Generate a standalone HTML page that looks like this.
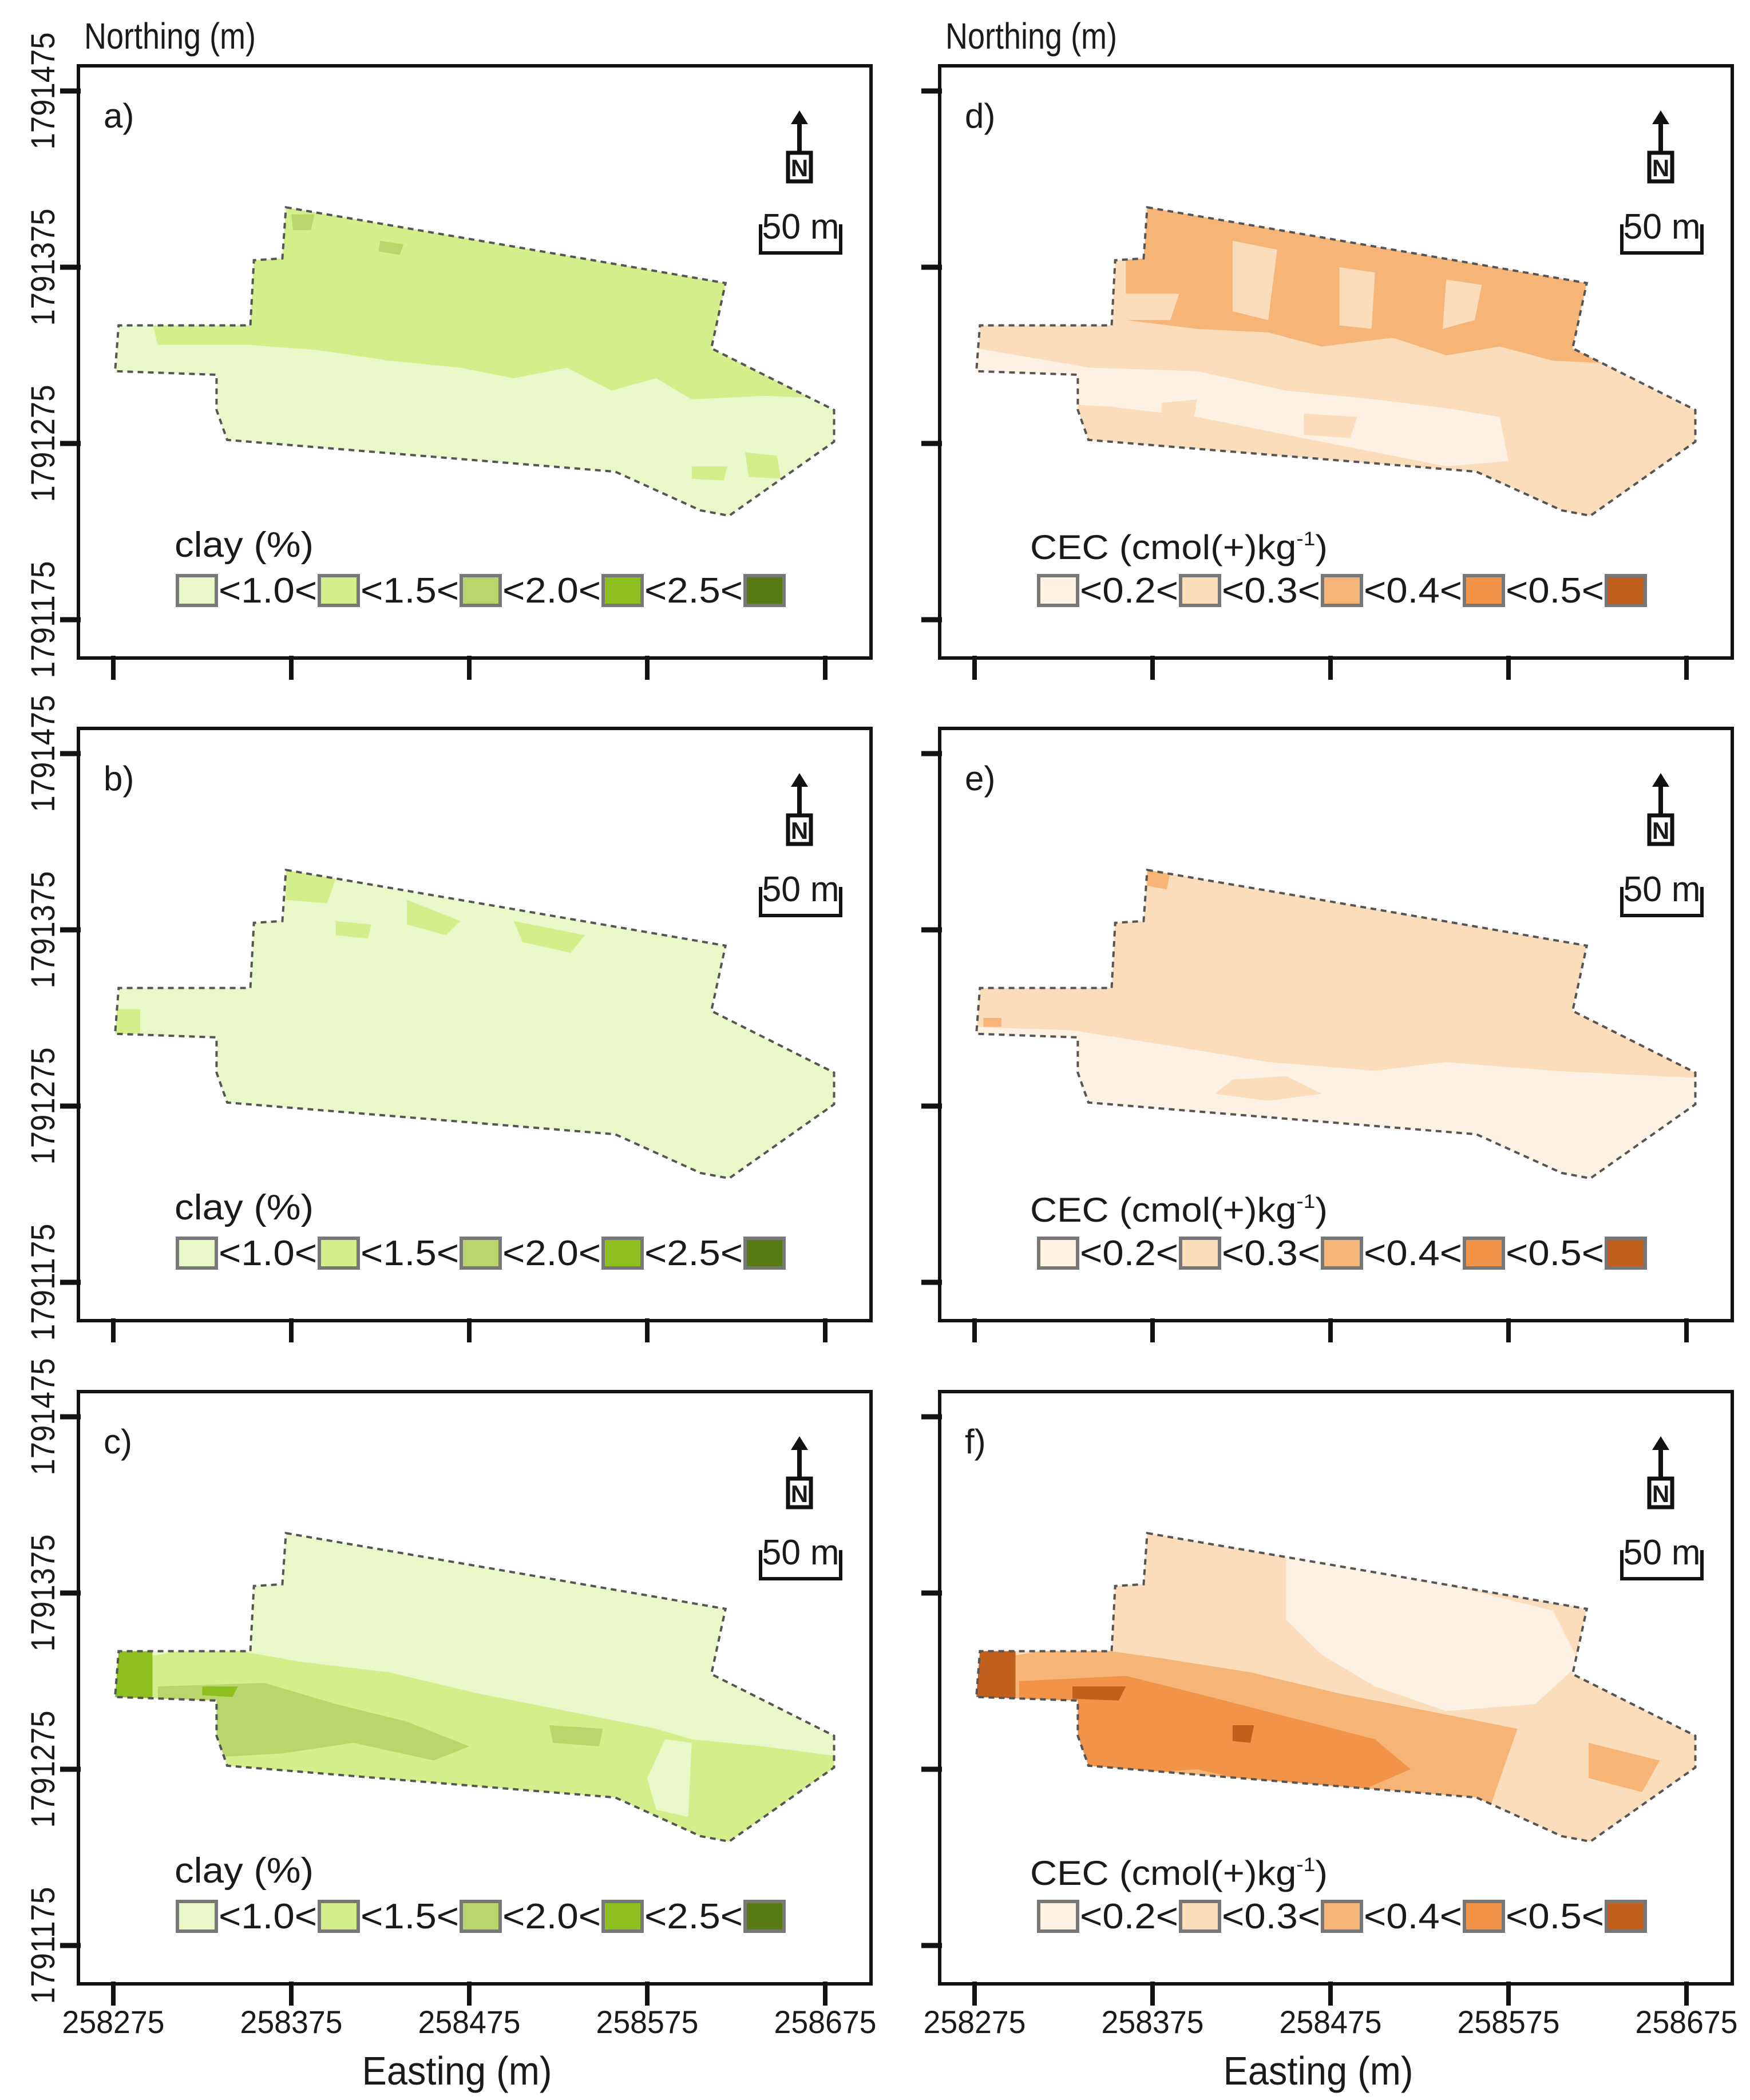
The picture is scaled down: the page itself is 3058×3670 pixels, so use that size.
<!DOCTYPE html>
<html><head><meta charset="utf-8"><style>
html,body{margin:0;padding:0;background:#fff}
svg{display:block}
text{font-family:"Liberation Sans",Arial,sans-serif;fill:#1a1a1a}
</style></head><body>
<svg id="fig" xmlns="http://www.w3.org/2000/svg" width="3058" height="3670" viewBox="0 0 3058 3670"></svg>
<script>
const NS="http://www.w3.org/2000/svg";
const xTicks=[258275,258375,258475,258575,258675];
const yTicks=[1791475,1791375,1791275,1791175];
const greenColors=["#e9f7c9","#d4ee8c","#b9d56b","#8cbf1f","#5a7a15"];
const orangeColors=["#fdf1e3","#fbdcbb","#f6b477","#f2934a","#c0601c"];
const clayLabels=["<1.0<","<1.5<","<2.0<","<2.5<"];
const cecLabels=["<0.2<","<0.3<","<0.4<","<0.5<"];
const field=[[258372,1791409],[258619,1791366],[258611,1791329],[258680,1791294],[258680,1791276],[258621,1791234],[258605,1791237],[258557,1791259],[258339,1791277],[258333,1791294],[258333,1791314],[258276,1791316],[258278,1791342],[258352,1791342],[258354,1791379],[258370,1791380]];
const zonesA=[[1,[[258270,1791450],[258700,1791450],[258700,1791300],[258640,1791302],[258600,1791300],[258580,1791312],[258555,1791305],[258530,1791318],[258500,1791312],[258470,1791318],[258430,1791322],[258390,1791328],[258350,1791331],[258300,1791331]]],
 [2,[[258375,1791405],[258388,1791405],[258386,1791396],[258376,1791396]]],
 [2,[[258425,1791390],[258438,1791388],[258436,1791382],[258424,1791384]]],
 [1,[[258630,1791270],[258648,1791268],[258650,1791255],[258632,1791256]]],
 [1,[[258600,1791262],[258620,1791262],[258618,1791254],[258600,1791255]]]];
const zonesB=[[1,[[258372,1791409],[258400,1791404],[258395,1791390],[258372,1791392]]],
 [1,[[258440,1791392],[258470,1791380],[258462,1791372],[258440,1791378]]],
 [1,[[258500,1791380],[258540,1791372],[258532,1791362],[258505,1791368]]],
 [1,[[258276,1791330],[258290,1791330],[258290,1791316],[258276,1791316]]],
 [1,[[258400,1791380],[258420,1791378],[258418,1791370],[258400,1791372]]]];
const zonesC=[[1,[[258270,1791335],[258330,1791345],[258380,1791336],[258430,1791330],[258480,1791318],[258540,1791306],[258580,1791298],[258600,1791292],[258640,1791288],[258700,1791280],[258700,1791200],[258270,1791200]]],
 [0,[[258585,1791292],[258600,1791290],[258598,1791248],[258580,1791252],[258575,1791270]]],
 [2,[[258300,1791322],[258360,1791324],[258400,1791312],[258440,1791302],[258475,1791288],[258455,1791280],[258410,1791290],[258370,1791284],[258335,1791282],[258300,1791286]]],
 [2,[[258520,1791300],[258550,1791298],[258548,1791288],[258522,1791290]]],
 [3,[[258270,1791350],[258297,1791350],[258297,1791305],[258270,1791305]]],
 [3,[[258325,1791322],[258345,1791322],[258342,1791316],[258325,1791317]]]];
const zonesD=[[2,[[258360,1791410],[258700,1791410],[258700,1791330],[258640,1791320],[258600,1791322],[258570,1791330],[258540,1791325],[258510,1791335],[258470,1791330],[258440,1791338],[258400,1791340],[258360,1791345]]],
 [1,[[258420,1791390],[258445,1791385],[258440,1791345],[258420,1791350]]],
 [1,[[258480,1791375],[258500,1791372],[258498,1791340],[258480,1791342]]],
 [1,[[258540,1791368],[258560,1791365],[258556,1791345],[258538,1791340]]],
 [1,[[258355,1791360],[258390,1791360],[258385,1791345],[258355,1791345]]],
 [0,[[258270,1791330],[258340,1791318],[258400,1791316],[258450,1791305],[258500,1791300],[258540,1791295],[258570,1791290],[258575,1791265],[258540,1791262],[258500,1791270],[258450,1791280],[258400,1791290],[258350,1791296],[258270,1791300]]],
 [1,[[258380,1791298],[258400,1791300],[258398,1791288],[258380,1791290]]],
 [1,[[258460,1791292],[258490,1791290],[258486,1791278],[258460,1791280]]]];
const zonesE=[[0,[[258270,1791320],[258330,1791318],[258380,1791310],[258440,1791300],[258500,1791295],[258540,1791300],[258600,1791295],[258700,1791290],[258700,1791200],[258270,1791200]]],
 [1,[[258420,1791290],[258450,1791292],[258470,1791282],[258440,1791278],[258410,1791282]]],
 [2,[[258372,1791409],[258385,1791408],[258383,1791398],[258372,1791400]]],
 [2,[[258280,1791325],[258290,1791325],[258290,1791320],[258280,1791320]]]];
const zonesF=[[0,[[258450,1791400],[258560,1791375],[258600,1791365],[258615,1791335],[258590,1791312],[258540,1791308],[258500,1791322],[258470,1791340],[258450,1791360]]],
 [2,[[258270,1791335],[258330,1791345],[258380,1791338],[258430,1791330],[258480,1791318],[258540,1791306],[258580,1791298],[258560,1791240],[258270,1791240]]],
 [2,[[258620,1791290],[258660,1791280],[258650,1791262],[258620,1791270]]],
 [3,[[258300,1791325],[258360,1791328],[258400,1791318],[258450,1791305],[258500,1791292],[258520,1791275],[258490,1791262],[258440,1791266],[258400,1791275],[258360,1791272],[258335,1791276],[258300,1791282]]],
 [4,[[258270,1791350],[258298,1791350],[258298,1791305],[258270,1791305]]],
 [4,[[258330,1791322],[258360,1791322],[258356,1791314],[258330,1791315]]],
 [4,[[258420,1791300],[258432,1791300],[258430,1791290],[258420,1791291]]]];

const PW=1385,PH=1035;
const panels=[
 {id:"a",x:137,y:115,pal:greenColors,zones:zonesA,base:0,title:"clay (%)",labels:clayLabels,left:true},
 {id:"b",x:137,y:1273,pal:greenColors,zones:zonesB,base:0,title:"clay (%)",labels:clayLabels,left:true},
 {id:"c",x:137,y:2432,pal:greenColors,zones:zonesC,base:0,title:"clay (%)",labels:clayLabels,left:true,bottom:true},
 {id:"d",x:1642,y:115,pal:orangeColors,zones:zonesD,base:1,title:"CEC",labels:cecLabels},
 {id:"e",x:1642,y:1273,pal:orangeColors,zones:zonesE,base:1,title:"CEC",labels:cecLabels},
 {id:"f",x:1642,y:2432,pal:orangeColors,zones:zonesF,base:1,title:"CEC",labels:cecLabels,bottom:true}];
const svg=document.getElementById('fig');
function mk(tag,attrs,parent,txt){const e=document.createElementNS(NS,tag);for(const k in attrs)e.setAttribute(k,attrs[k]);if(txt!==undefined)e.textContent=txt;(parent||svg).appendChild(e);return e;}
function xs(E){return 61+(E-258275)*3.11;}
function ys(N){return 44+(1791475-N)*3.08;}
function pts(p){return p.map(q=>xs(q[0]).toFixed(1)+","+ys(q[1]).toFixed(1)).join(" ");}

panels.forEach(P=>{
  const g=mk('g',{transform:`translate(${P.x},${P.y})`});
  
  
  const cp=mk('clipPath',{id:'clip'+P.id},g);
  mk('polygon',{points:pts(field)},cp);
  const fp=mk('polygon',{points:pts(field),fill:P.pal[P.base]},g);
  
  
  const zg=mk('g',{'clip-path':`url(#clip${P.id})`},g);
  P.zones.forEach(z=>{
    const e=mk('polygon',{points:pts(z[1]),fill:P.pal[z[0]]},zg);
    
    
  });
  const bd=mk('polygon',{points:pts(field),fill:"none",stroke:"#555","stroke-width":4,"stroke-dasharray":"10,8"},g);
  
  
  const fr=mk('rect',{x:0,y:0,width:PW,height:PH,fill:"none",stroke:"#111","stroke-width":6},g);
  
  
  yTicks.forEach(v=>{const t=mk('line',{x1:-32,x2:4,y1:ys(v),y2:ys(v),stroke:"#111","stroke-width":9},g);
    
    
    if(P.left){const l=mk('text',{x:0,y:0,"font-size":58,"text-anchor":"middle",transform:`translate(-42,${ys(v)}) rotate(-90)`,textLength:205,lengthAdjust:"spacingAndGlyphs"},g,String(v));
      
      }
  });
  xTicks.forEach(v=>{const t=mk('line',{x1:xs(v),x2:xs(v),y1:PH-4,y2:PH+38,stroke:"#111","stroke-width":8},g);
    
    
    if(P.bottom){const l=mk('text',{x:xs(v),y:PH+86,"font-size":56,"text-anchor":"middle",textLength:179,lengthAdjust:"spacingAndGlyphs"},g,String(v));
      
      }
  });
  const pl=mk('text',{x:44,y:108,"font-size":60},g,P.id+")");
  
  
  const na=mk('g',{},g);
  
  
  mk('line',{x1:1260,y1:152,x2:1260,y2:95,stroke:"#111","stroke-width":8},na);
  mk('polygon',{points:"1245,102 1275,102 1260,78",fill:"#111"},na);
  mk('rect',{x:1240,y:152,width:40,height:50,fill:"#fff",stroke:"#111","stroke-width":7},na);
  mk('text',{x:1260,y:193,"font-size":42,"font-weight":"bold","text-anchor":"middle"},na,"N");
  const sb=mk('g',{},g);
  
  
  mk('polyline',{points:"1192,277 1192,327 1332,327 1332,277",fill:"none",stroke:"#111","stroke-width":6},sb);
  mk('text',{x:1262,y:302,"font-size":62,"text-anchor":"middle",textLength:135,lengthAdjust:"spacingAndGlyphs"},sb,"50 m");
  const lg=mk('g',{},g);
  
  
  if(P.title==="CEC"){const t=mk('text',{x:158,y:862,"font-size":60,textLength:520,lengthAdjust:"spacingAndGlyphs"},lg);
    
    
    t.innerHTML='CEC (cmol(+)kg<tspan font-size="34" dy="-24">-1</tspan><tspan dy="24">)</tspan>';
  } else {const t=mk('text',{x:168,y:858,"font-size":62,textLength:243,lengthAdjust:"spacingAndGlyphs"},lg,P.title);
    
    }
  P.pal.forEach((c,i)=>{const bx=173+i*248;
    const r=mk('rect',{x:bx,y:891,width:68,height:52,fill:c,stroke:"#777","stroke-width":6},lg);
    
    
    if(i<4){const t=mk('text',{x:bx+72,y:938,"font-size":62,textLength:172,lengthAdjust:"spacingAndGlyphs"},lg,P.labels[i]);
      
      }
  });
  if(P.y===115){const t=mk('text',{x:10,y:-30,"font-size":64,textLength:300,lengthAdjust:"spacingAndGlyphs"},g,"Northing (m)");
    
    }
  if(P.bottom){const t=mk('text',{x:PW/2-31,y:PH+176,"font-size":70,"text-anchor":"middle",textLength:332,lengthAdjust:"spacingAndGlyphs"},g,"Easting (m)");
    
    }
});
</script>
</body></html>
